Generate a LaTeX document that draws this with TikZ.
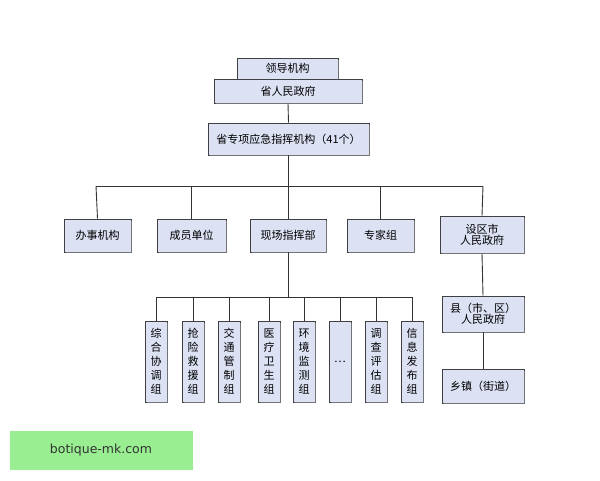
\documentclass[tikz,border=0pt]{standalone}
\usepackage{fontspec}
\setmainfont{Noto Sans CJK SC}
\newfontfamily\wm{DejaVu Sans}
\begin{document}
\begin{tikzpicture}[x=1pt,y=-1pt,
  bx/.style={draw=black!75,line width=0.8pt,fill=boxc,font=\fontsize{11}{13}\selectfont,inner sep=0pt,align=center},
  ln/.style={draw=black!80,line width=0.9pt}]
\definecolor{boxc}{HTML}{DCE2F4}
\definecolor{wmc}{HTML}{98EE90}
\useasboundingbox (0,0) rectangle (600,480);
\fill[white] (0,0) rectangle (600,480);
\newcommand{\bxx}[6]{\node[bx,minimum width=#3-#2,minimum height=#5-#4] (#1) at ({(#2+#3)/2},{(#4+#5)/2}) {#6};
 \draw[black!55,line width=1pt] (#3+0.7,#4+1.5) -- (#3+0.7,#5+0.7) -- (#2+1.5,#5+0.7);}
\bxx{lead}{237}{338}{58}{79}{领导机构}
\bxx{gov}{214}{362}{79}{103}{省人民政府}
\bxx{cmd}{208}{369}{123}{155}{省专项应急指挥机构（41个）}
\bxx{a}{64}{131}{219}{252}{办事机构}
\bxx{b}{157}{226}{219}{252}{成员单位}
\bxx{c}{250}{326}{219}{252}{现场指挥部}
\bxx{d}{347}{414}{219}{252}{专家组}
\bxx{e}{440}{524}{216}{253}{设区市\\[-2pt]人民政府}
\bxx{f}{442}{524}{296}{332}{县（市、区）\\[-2pt]人民政府}
\bxx{g}{442}{524}{369}{403}{乡镇（街道）}
\foreach \n/\c/\t in {s1/156/综\\合\\协\\调\\组, s2/193/抢\\险\\救\\援\\组, s3/229/交\\通\\管\\制\\组, s4/269/医\\疗\\卫\\生\\组, s5/304/环\\境\\监\\测\\组, s6/340/…, s7/376/调\\查\\评\\估\\组, s8/412/信\\息\\发\\布\\组}{
  \node[bx,minimum width=22,minimum height=81,font=\fontsize{11}{14}\selectfont] (\n) at (\c,361.5) {\t};
  \draw[black!55,line width=1pt] (\c+11.7,322.5) -- (\c+11.7,402.7) -- (\c-9.5,402.7);
  \draw[ln] (\n.north) -- (\c,297);
}
\coordinate (h1) at (96,186); \coordinate (h2) at (483,186);
\draw[ln] (gov.south) -- (cmd.north);
\draw[ln] (cmd.south) -- (288.5,186);
\draw[ln] (h1) -- (h2);
\draw[ln] (h1) -- (a.north);
\draw[ln] (191.5,186) -- (b.north);
\draw[ln] (288,186) -- (c.north);
\draw[ln] (380.5,186) -- (d.north);
\draw[ln] (h2) -- (e.north);
\draw[ln] (c.south) -- (288,297);
\draw[ln] (156,297) -- (412,297);
\draw[ln] (e.south) -- (f.north);
\draw[ln] (f.south) -- (g.north);
\fill[wmc] (10,431) rectangle (193,470);
\node[font=\wm\fontsize{12.5}{14}\selectfont,text=black!80] (wm) at (101,450.5) {botique-mk.com};
\end{tikzpicture}
\end{document}
